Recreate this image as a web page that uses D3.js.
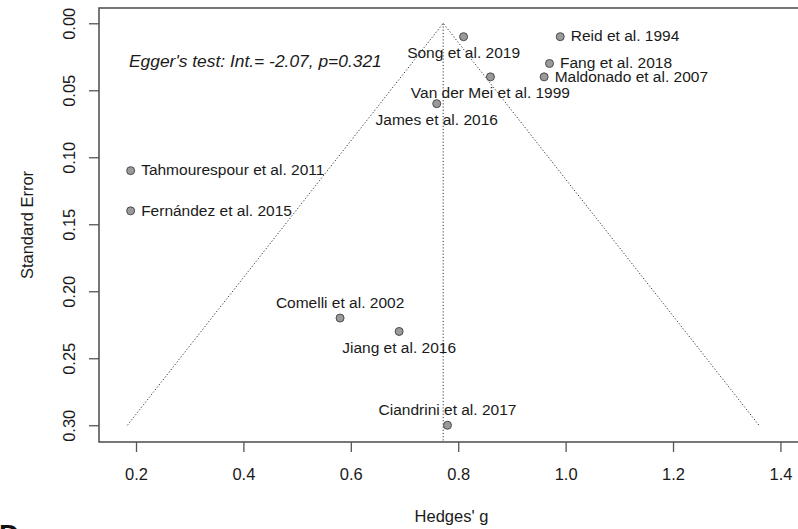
<!DOCTYPE html>
<html>
<head>
<meta charset="utf-8">
<script src="https://cdn.jsdelivr.net/npm/d3@7"></script>
<style>
  html, body { margin: 0; padding: 0; background: #fff; }
  svg { display: block; font-family: "Liberation Sans", Arial, sans-serif; }
</style>
</head>
<body>
<svg id="chart" width="798" height="529"></svg>
<script>
// Funnel plot of study effect sizes (Hedges' g) against their standard errors
const studies = [
  "Reid et al. 1994", "Song et al. 2019", "Fang et al. 2018", "Maldonado et al. 2007",
  "Van der Mei et al. 1999", "James et al. 2016", "Tahmourespour et al. 2011",
  "Fernández et al. 2015", "Comelli et al. 2002", "Jiang et al. 2016", "Ciandrini et al. 2017"
];
const hedgesG = [0.99, 0.81, 0.97, 0.96, 0.86, 0.76, 0.19, 0.19, 0.58, 0.69, 0.78];
const stdErr  = [0.01, 0.01, 0.03, 0.04, 0.04, 0.06, 0.11, 0.14, 0.22, 0.23, 0.30];
const labelSide = ["right", "below", "right", "right", "below", "below", "right", "right", "above", "below", "above"];

const pooledEstimate = 0.772;
const funnelMaxSE = 0.30;
const xTicks = [0.2, 0.4, 0.6, 0.8, 1.0, 1.2, 1.4];
const yTicks = [0.00, 0.05, 0.10, 0.15, 0.20, 0.25, 0.30];
const eggerText = "Egger's test: Int.= -2.07, p=0.321";

const svg = d3.select("#chart");
const box = { left: 99, right: 804, top: 8, bottom: 442 };

const x = d3.scaleLinear().domain([0.1311, 1.4439]).range([box.left, box.right]);
const y = d3.scaleLinear().domain([-0.0114, 0.3125]).range([box.top, box.bottom]);

const axisColor = "#555";
const textColor = "#1a1a1a";

// x axis
const xAxis = svg.append("g")
  .attr("transform", `translate(0,${box.bottom})`)
  .call(d3.axisBottom(x).tickValues(xTicks).tickFormat(d3.format(".1f")).tickSize(10).tickSizeOuter(0));
xAxis.select(".domain").remove();
xAxis.selectAll(".tick line").attr("stroke", axisColor).attr("stroke-width", 1.3);
xAxis.selectAll(".tick text")
  .attr("y", 37.5).attr("dy", 0)
  .attr("fill", textColor)
  .style("font-size", "16.5px");

// y axis with rotated labels
const yAxis = svg.append("g")
  .attr("transform", `translate(${box.left},0)`)
  .call(d3.axisLeft(y).tickValues(yTicks).tickFormat(d3.format(".2f")).tickSize(10).tickSizeOuter(0));
yAxis.select(".domain").remove();
yAxis.selectAll(".tick line").attr("stroke", axisColor).attr("stroke-width", 1.3);
yAxis.selectAll(".tick text")
  .attr("x", 0).attr("y", 0).attr("dy", 0)
  .attr("text-anchor", "middle")
  .attr("transform", "translate(-24.5,0) rotate(-90)")
  .attr("fill", textColor)
  .style("font-size", "16.5px");

// plot frame
svg.append("rect")
  .attr("x", box.left).attr("y", box.top)
  .attr("width", box.right - box.left).attr("height", box.bottom - box.top)
  .attr("fill", "none").attr("stroke", axisColor).attr("stroke-width", 1.6);

// funnel: pseudo 95% limits around the pooled estimate
const funnelPts = [
  [pooledEstimate - 1.96 * funnelMaxSE, funnelMaxSE],
  [pooledEstimate, 0],
  [pooledEstimate + 1.96 * funnelMaxSE, funnelMaxSE]
];
svg.append("path")
  .attr("d", d3.line().x(d => x(d[0])).y(d => y(d[1]))(funnelPts))
  .attr("fill", "none").attr("stroke", "#333").attr("stroke-width", 1)
  .attr("stroke-dasharray", "1.2,2");

svg.append("line")
  .attr("x1", x(pooledEstimate)).attr("x2", x(pooledEstimate))
  .attr("y1", y(0)).attr("y2", box.bottom)
  .attr("stroke", "#333").attr("stroke-width", 1)
  .attr("stroke-dasharray", "1.2,2");

// study points
const rows = studies.map((name, i) => ({ name, g: hedgesG[i], se: stdErr[i], side: labelSide[i] }));

svg.append("g").selectAll("circle")
  .data(rows).join("circle")
  .attr("cx", d => x(d.g)).attr("cy", d => y(d.se))
  .attr("r", 4)
  .attr("fill", "#9a9a9a").attr("stroke", "#4a4a4a").attr("stroke-width", 1);

svg.append("g").selectAll("text")
  .data(rows).join("text")
  .attr("x", d => d.side === "right" ? x(d.g) + 10.5 : x(d.g))
  .attr("y", d => d.side === "right" ? y(d.se) + 4.8 : d.side === "below" ? y(d.se) + 21.5 : y(d.se) - 10.5)
  .attr("text-anchor", d => d.side === "right" ? "start" : "middle")
  .attr("fill", textColor)
  .style("font-size", "15.5px")
  .text(d => d.name);

// Egger's regression test annotation
svg.append("text")
  .attr("x", 129).attr("y", 67)
  .attr("fill", textColor)
  .style("font-size", "17.4px").style("font-style", "italic")
  .text(eggerText);

// axis titles
svg.append("text")
  .attr("x", (box.left + box.right) / 2).attr("y", 522)
  .attr("text-anchor", "middle").attr("fill", textColor)
  .style("font-size", "16.5px")
  .text("Hedges' g");

svg.append("text")
  .attr("transform", `translate(33,${(box.top + box.bottom) / 2}) rotate(-90)`)
  .attr("text-anchor", "middle").attr("fill", textColor)
  .style("font-size", "16.5px")
  .text("Standard Error");

// panel letter
svg.append("text")
  .attr("x", -1).attr("y", 544)
  .attr("fill", "#111")
  .style("font-size", "28px").style("font-weight", "bold")
  .text("D");
</script>
</body>
</html>
